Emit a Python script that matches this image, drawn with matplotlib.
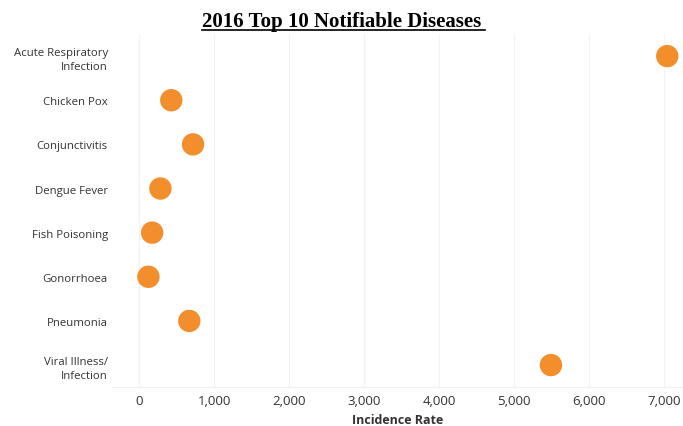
import matplotlib
matplotlib.use('Agg')
import matplotlib.pyplot as plt
from matplotlib.lines import Line2D
from matplotlib.ticker import FuncFormatter

diseases = ['Acute Respiratory\nInfection', 'Chicken Pox', 'Conjunctivitis', 'Dengue Fever',
            'Fish Poisoning', 'Gonorrhoea', 'Pneumonia', 'Viral Illness/\nInfection']
rates = [7040, 430, 720, 285, 175, 125, 670, 5490]
xticks = [0, 1000, 2000, 3000, 4000, 5000, 6000, 7000]

plt.rcParams['font.family'] = ['Open Sans', 'DejaVu Sans']

fig = plt.figure(figsize=(6.83, 4.27), dpi=100)
ax = fig.add_axes([0.164, 0.091, 0.836, 0.827])

ypos = list(range(len(diseases)))
ax.scatter(rates, ypos, s=260, color='#F28E2B', edgecolors='none', zorder=3)

ax.set_xlim(-360, 7250)
ax.set_ylim(len(diseases) - 0.5, -0.5)
ax.set_xticks(xticks)
ax.xaxis.set_major_formatter(FuncFormatter(lambda v, p: f'{int(v):,}'))
ax.set_yticks(ypos)
ax.set_yticklabels(diseases, fontsize=8.2, color='#333333', linespacing=1.45)
ax.tick_params(axis='x', labelsize=9.5, colors='#333333', length=0, pad=5)
ax.tick_params(axis='y', length=0, pad=3)

ax.grid(axis='x', color='#f3f3f3', linewidth=0.8)
ax.set_axisbelow(True)
for s in ['top', 'right', 'left']:
    ax.spines[s].set_visible(False)
ax.spines['bottom'].set_color('#f0f0f0')

ax.set_xlabel('Incidence Rate', fontsize=9, fontweight='bold', color='#333333', labelpad=4)

title = fig.text(0.5, 0.948, '2016 Top 10 Notifiable Diseases', ha='center', va='center',
                 fontsize=15, fontweight='bold', family='Liberation Serif')
fig.canvas.draw()
bb = title.get_window_extent().transformed(fig.transFigure.inverted())
fig.add_artist(Line2D([bb.x0, bb.x1 + 0.005], [bb.y0 + 0.003, bb.y0 + 0.003],
                      transform=fig.transFigure, color='black', linewidth=1.2))

fig.savefig('out.png', dpi=100)
